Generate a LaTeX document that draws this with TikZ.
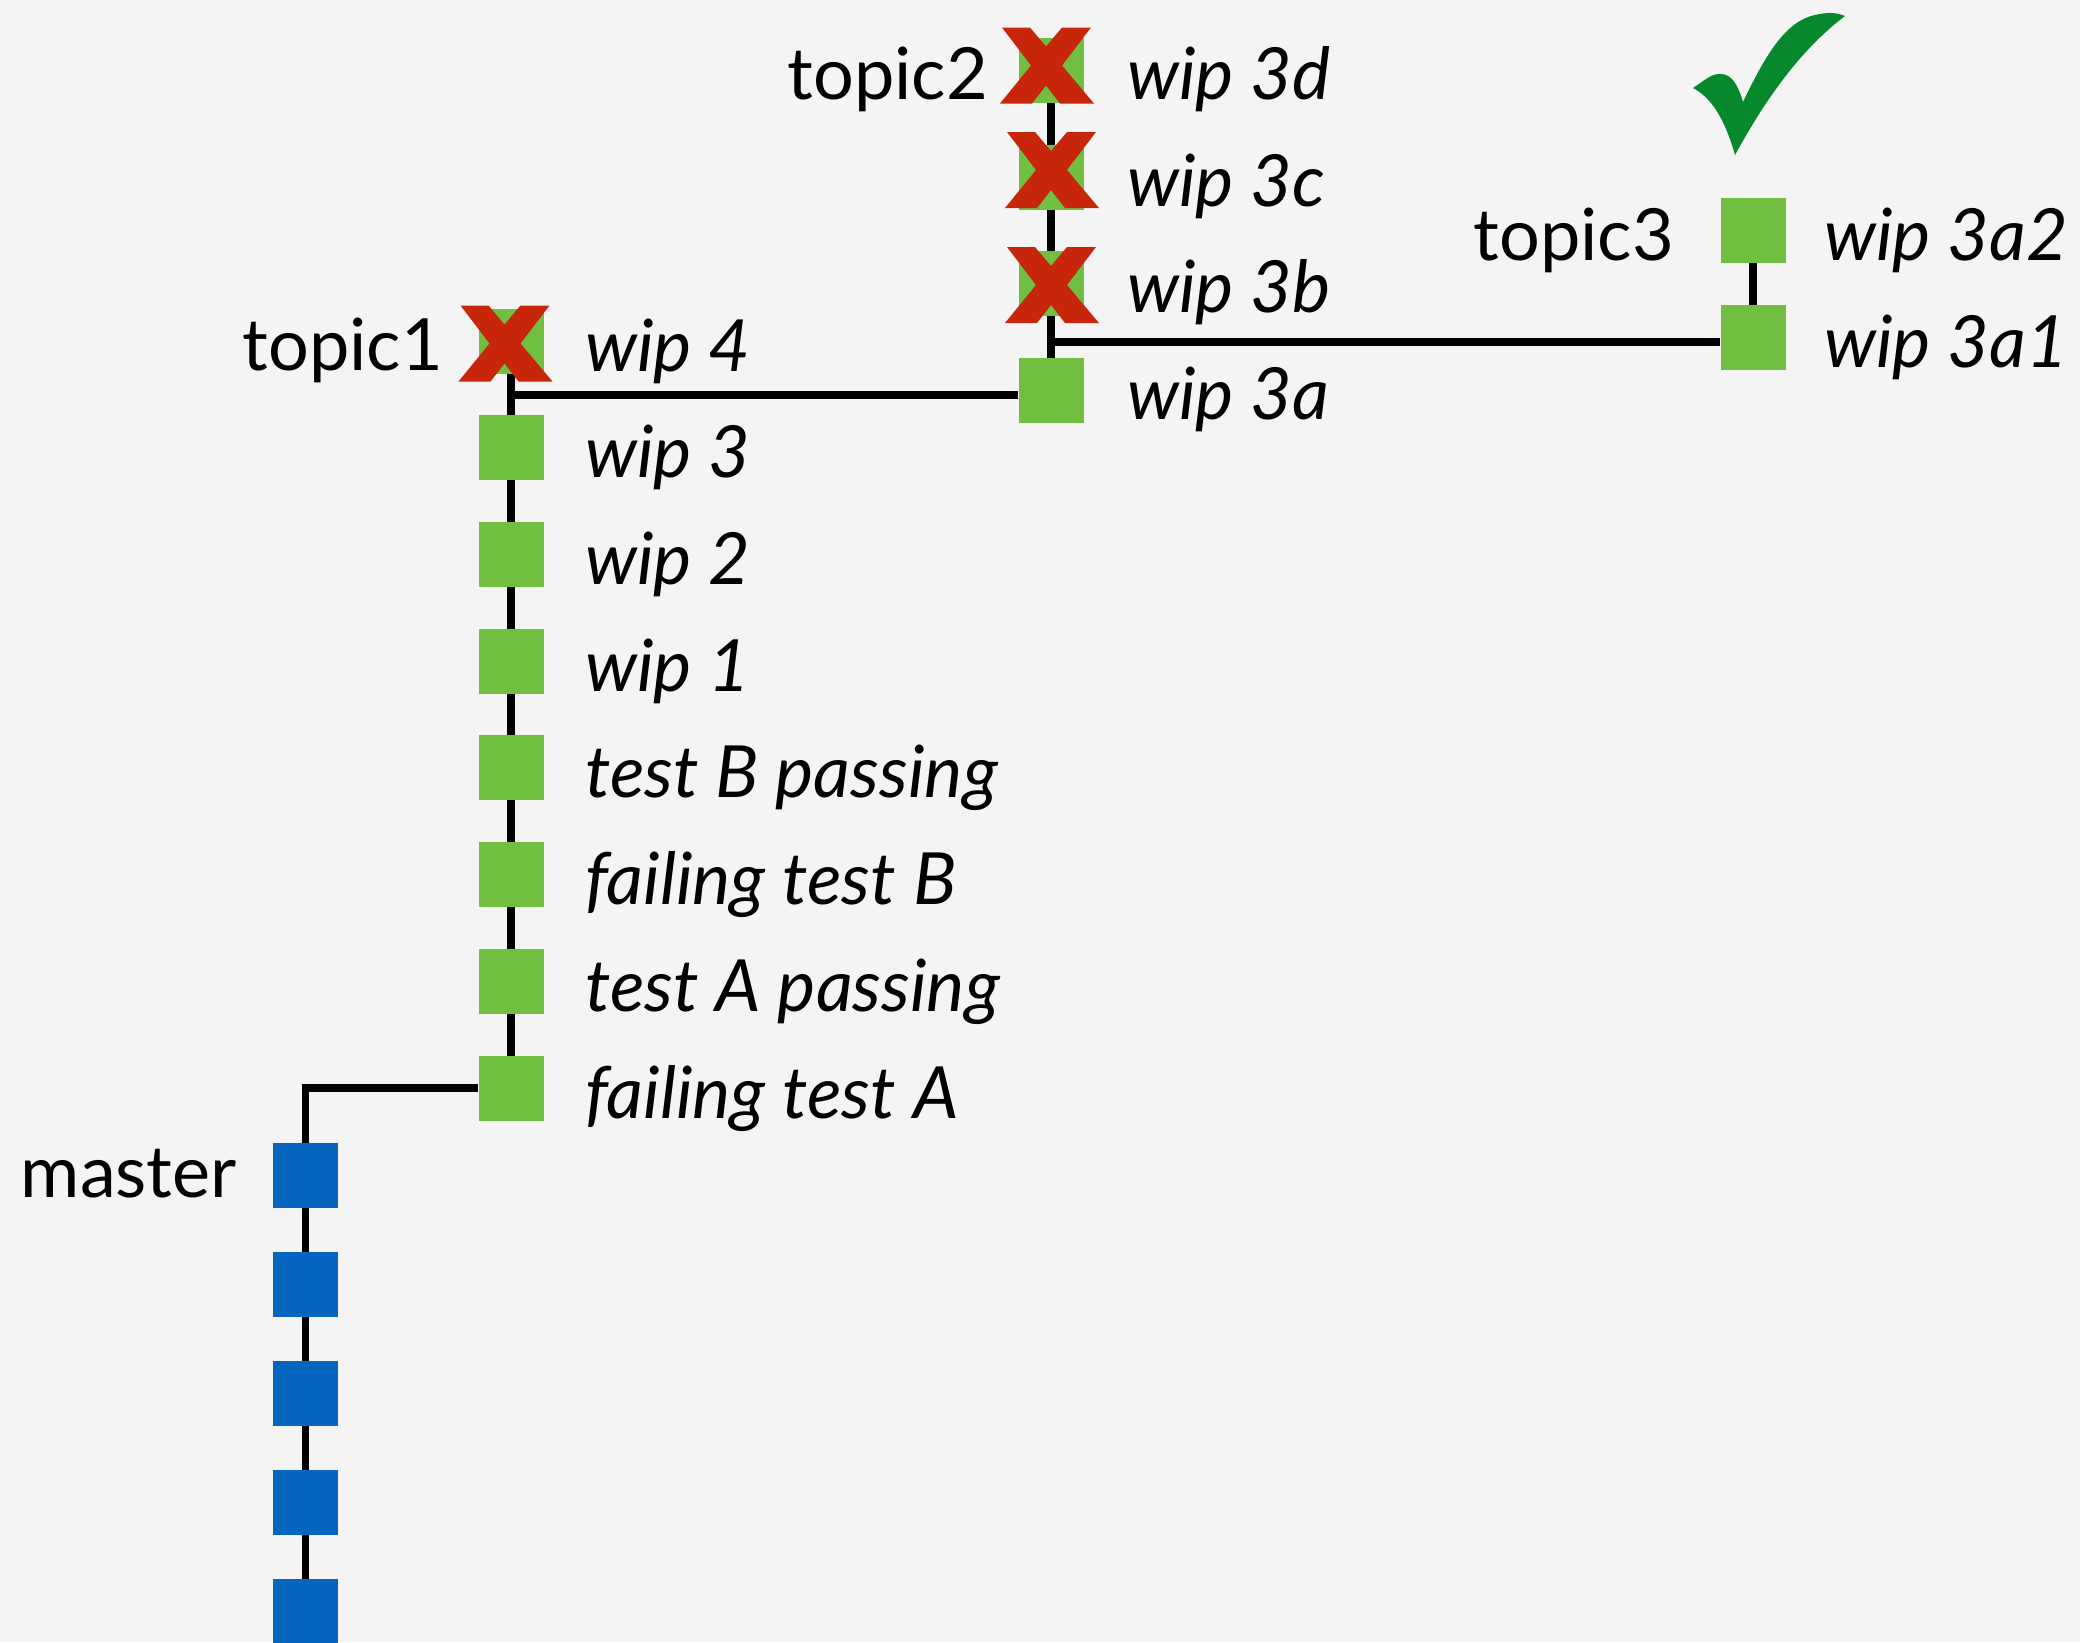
\documentclass[tikz,border=0pt]{standalone}
\usepackage{fontspec}
\setmainfont{Lato}
\pgfdeclarelayer{back}
\pgfdeclarelayer{lines}
\pgfsetlayers{back,lines,main}
\definecolor{bgc}{HTML}{F4F4F4}
\definecolor{cgreen}{HTML}{70BF41}
\definecolor{cblue}{HTML}{0565BF}
\definecolor{cred}{HTML}{C8260A}
\definecolor{ccheck}{HTML}{05892C}
\newcommand\crossmark[3]{%
  \begin{scope}[shift={(#1.center)},shift={(#2,#3)}]
    \fill[cred] (-45,-38) -- (-17,-38) -- (-1,-19) -- (15,-38) -- (44,-38) -- (15,0)
      -- (47,38) -- (13,38) -- (-1,20) -- (-15,38) -- (-47,38) -- (-16,0) -- cycle;
  \end{scope}}
\begin{document}
\begin{tikzpicture}[x=1pt,y=-1pt,
  commit/.style={rectangle, minimum size=65pt, inner sep=0pt, fill=cgreen},
  mcommit/.style={commit, fill=cblue},
  msg/.style={anchor=base west, inner sep=0pt, font=\fontsize{72}{86}\selectfont\itshape},
  branch/.style={anchor=base east, inner sep=0pt, font=\fontsize{72}{86}\selectfont},
  link/.style={line width=7.5pt, draw=black}]
\useasboundingbox (0,0) rectangle (2080,1642);
\begin{pgfonlayer}{back}
  \fill[bgc] (0,0) rectangle (2080,1642);
\end{pgfonlayer}

% topic1 column
\node[commit] (t4)  at (511,341) {};
\node[commit] (t3)  at (511,447.7) {};
\node[commit] (t2)  at (511,554.4) {};
\node[commit] (t1)  at (511,661.1) {};
\node[commit] (tBp) at (511,767.8) {};
\node[commit] (tBf) at (511,874.5) {};
\node[commit] (tAp) at (511,981.2) {};
\node[commit] (tAf) at (511,1088) {};
% topic2 column
\node[commit] (c3d) at (1051,70) {};
\node[commit] (c3c) at (1051,177) {};
\node[commit] (c3b) at (1051,283) {};
\node[commit] (c3a) at (1051,390) {};
% topic3 column
\node[commit] (c3a2) at (1753,230) {};
\node[commit] (c3a1) at (1753,337) {};
% master
\node[mcommit] (m1) at (305.5,1175.5) {};
\node[mcommit] (m2) at (305.5,1284.5) {};
\node[mcommit] (m3) at (305.5,1393.5) {};
\node[mcommit] (m4) at (305.5,1502.5) {};
\node[mcommit] (m5) at (305.5,1611.5) {};
\coordinate (mbot) at (305.5,1660);

% commit messages
\node[msg] (l4)  at (585,371) {wip 4};
\node[msg] (l3)  at (585,477.7) {wip 3};
\node[msg] (l2)  at (585,584.4) {wip 2};
\node[msg] (l1)  at (585,691.1) {wip 1};
\node[msg] (lBp) at (585,797.8) {test B passing};
\node[msg] (lBf) at (585,904.5) {failing test B};
\node[msg] (lAp) at (585,1011.2) {test A passing};
\node[msg] (lAf) at (585,1118) {failing test A};
\node[msg] (l3d) at (1127,99) {wip 3d};
\node[msg] (l3c) at (1127,206) {wip 3c};
\node[msg] (l3b) at (1127,312) {wip 3b};
\node[msg] (l3a) at (1127,419) {wip 3a};
\node[msg] (l3a2) at (1824,260) {wip 3a2};
\node[msg] (l3a1) at (1824,367) {wip 3a1};

% branch names
\node[branch] (b1) at (443,370) {topic1};
\node[branch] (b2) at (988,99) {topic2};
\node[branch] (b3) at (1674,260) {topic3};
\node[branch] (bm) at (237,1197) {master};

% connectors
\begin{pgfonlayer}{lines}
  \draw[link] (tAf.center) -- (t4.center);
  \draw[link] (c3a.center) -- (c3d.center);
  \draw[link] (c3a1.center) -- (c3a2.center);
  \draw[link] ([yshift=-5pt]c3a.west) -- ([yshift=-5pt]c3a.west -| t4.center);
  \draw[link] ([yshift=-5pt]c3a1.west) -- ([yshift=-5pt]c3a1.west -| c3a.center);
  \draw[link] (mbot) -- (tAf.west -| m1.center) -- (tAf.west);
\end{pgfonlayer}

% rejected commits
\crossmark{t4}{-5.5}{2.5}
\crossmark{c3d}{-4}{-4.5}
\crossmark{c3c}{1}{-7}
\crossmark{c3b}{1}{2}

% accepted
\fill[ccheck] (1693,88) .. controls (1705,80) and (1712,73) .. (1722,74)
  .. controls (1732,75) and (1738,85) .. (1743,102)
  .. controls (1770,45) and (1790,18) .. (1820,14)
  .. controls (1830,12) and (1838,13) .. (1845,16)
  .. controls (1800,50) and (1765,100) .. (1735,155)
  .. controls (1725,120) and (1712,98) .. (1693,88) -- cycle;
\end{tikzpicture}
\end{document}
